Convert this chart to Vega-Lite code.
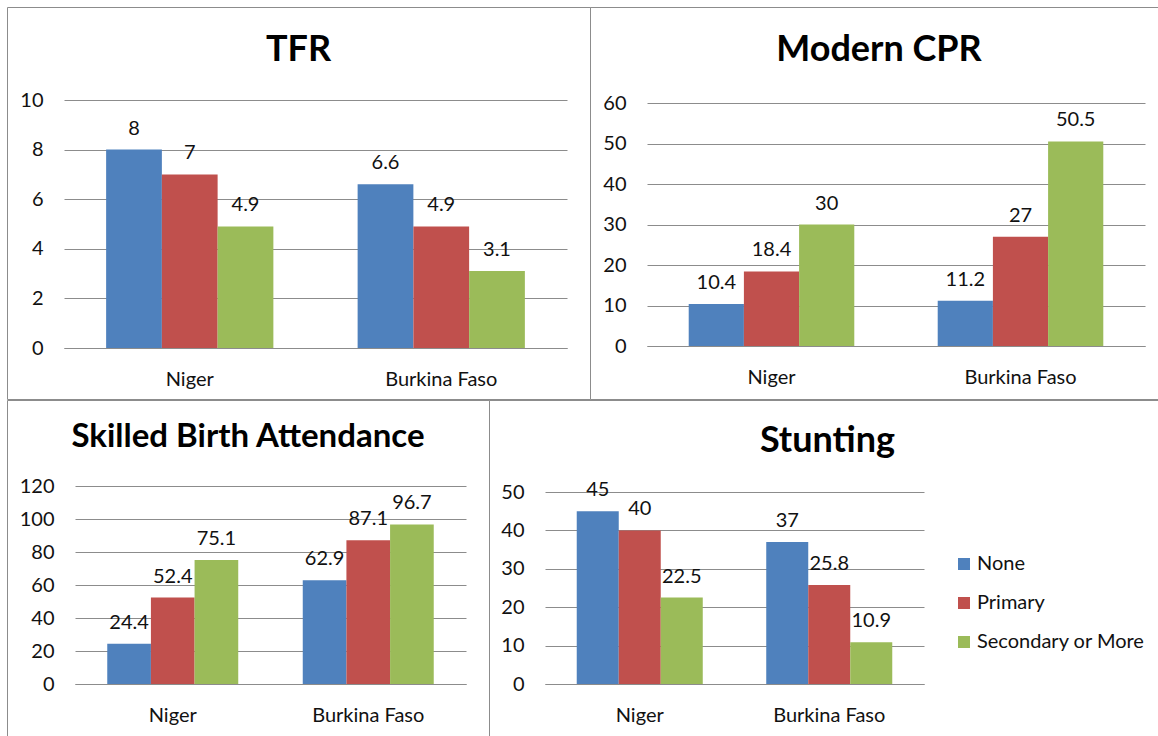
{
  "$schema": "https://vega.github.io/schema/vega-lite/v6.json",
  "background": "white",
  "padding": {"left": 6, "top": 6, "right": 0, "bottom": 0},
  "config": {
    "font": "Lato",
    "view": {"stroke": "#8c8c8c", "strokeWidth": 1},
    "axis": {"labelFont": "Lato", "labelFontSize": 20, "labelColor": "#111", "ticks": false, "title": null},
    "axisX": {"domain": true, "domainColor": "#8c8c8c", "grid": false, "labelAngle": 0, "labelPadding": 21},
    "axisY": {"domain": false, "grid": true, "gridColor": "#8c8c8c", "labelPadding": 21},
    "text": {"font": "Lato", "fontSize": 20, "color": "#111"},
    "title": {"font": "Lato", "fontSize": 36, "fontWeight": "bold", "color": "#000", "anchor": "middle", "frame": "group", "baseline": "alphabetic"}
  },
  "data": {
    "values": [
      {"indicator": "TFR", "country": "Niger", "education": "None", "value": 8},
      {"indicator": "TFR", "country": "Niger", "education": "Primary", "value": 7},
      {"indicator": "TFR", "country": "Niger", "education": "Secondary or More", "value": 4.9},
      {"indicator": "TFR", "country": "Burkina Faso", "education": "None", "value": 6.6},
      {"indicator": "TFR", "country": "Burkina Faso", "education": "Primary", "value": 4.9},
      {"indicator": "TFR", "country": "Burkina Faso", "education": "Secondary or More", "value": 3.1},
      {"indicator": "CPR", "country": "Niger", "education": "None", "value": 10.4},
      {"indicator": "CPR", "country": "Niger", "education": "Primary", "value": 18.4},
      {"indicator": "CPR", "country": "Niger", "education": "Secondary or More", "value": 30},
      {"indicator": "CPR", "country": "Burkina Faso", "education": "None", "value": 11.2},
      {"indicator": "CPR", "country": "Burkina Faso", "education": "Primary", "value": 27},
      {"indicator": "CPR", "country": "Burkina Faso", "education": "Secondary or More", "value": 50.5},
      {"indicator": "SBA", "country": "Niger", "education": "None", "value": 24.4},
      {"indicator": "SBA", "country": "Niger", "education": "Primary", "value": 52.4},
      {"indicator": "SBA", "country": "Niger", "education": "Secondary or More", "value": 75.1},
      {"indicator": "SBA", "country": "Burkina Faso", "education": "None", "value": 62.9},
      {"indicator": "SBA", "country": "Burkina Faso", "education": "Primary", "value": 87.1},
      {"indicator": "SBA", "country": "Burkina Faso", "education": "Secondary or More", "value": 96.7},
      {"indicator": "Stunting", "country": "Niger", "education": "None", "value": 45},
      {"indicator": "Stunting", "country": "Niger", "education": "Primary", "value": 40},
      {"indicator": "Stunting", "country": "Niger", "education": "Secondary or More", "value": 22.5},
      {"indicator": "Stunting", "country": "Burkina Faso", "education": "None", "value": 37},
      {"indicator": "Stunting", "country": "Burkina Faso", "education": "Primary", "value": 25.8},
      {"indicator": "Stunting", "country": "Burkina Faso", "education": "Secondary or More", "value": 10.9}
    ]
  },
  "spacing": -2,
  "resolve": {"scale": {"color": "independent", "xOffset": "independent"}, "legend": {"color": "independent"}},
  "vconcat": [
    {
      "spacing": 0,
      "bounds": "flush",
      "resolve": {"scale": {"color": "independent", "xOffset": "independent"}, "legend": {"color": "independent"}},
      "hconcat": [
        {
          "width": 583,
          "height": 392,
          "title": {"text": "TFR", "offset": -62},
          "transform": [{"filter": "datum.indicator === 'TFR'"}],
          "encoding": {
            "x": {"field": "country", "type": "nominal", "sort": ["Niger", "Burkina Faso"],
                  "scale": {"range": [57, 560], "paddingInner": 0.335, "paddingOuter": 0.1675},
                  "axis": {"offset": -51}},
            "xOffset": {"field": "education", "type": "nominal", "sort": ["None", "Primary", "Secondary or More"],
                        "scale": {"paddingInner": 0, "paddingOuter": 0}},
            "y": {"field": "value", "type": "quantitative",
                  "scale": {"domain": [0, 10], "range": [341, 93], "nice": false},
                  "axis": {"values": [0, 2, 4, 6, 8, 10], "offset": -57}},
            "color": {"field": "education", "type": "nominal", "sort": ["None", "Primary", "Secondary or More"],
                      "scale": {"domain": ["None", "Primary", "Secondary or More"], "range": ["#4F81BD", "#C0504D", "#9BBB59"]},
                      "legend": null}
          },
          "layer": [
            {"mark": {"type": "bar"}},
            {"mark": {"type": "text", "baseline": "alphabetic", "dy": -15}, "encoding": {"text": {"field": "value", "type": "quantitative"}, "color": {"value": "#111"}}}
          ]
        },
        {
          "width": 568,
          "height": 392,
          "title": {"text": "Modern CPR", "offset": -62, "dx": 5},
          "transform": [{"filter": "datum.indicator === 'CPR'"}],
          "encoding": {
            "x": {"field": "country", "type": "nominal", "sort": ["Niger", "Burkina Faso"],
                  "scale": {"range": [57, 555], "paddingInner": 0.335, "paddingOuter": 0.1675},
                  "axis": {"offset": -53}},
            "xOffset": {"field": "education", "type": "nominal", "sort": ["None", "Primary", "Secondary or More"],
                        "scale": {"paddingInner": 0, "paddingOuter": 0}},
            "y": {"field": "value", "type": "quantitative",
                  "scale": {"domain": [0, 60], "range": [339, 96], "nice": false},
                  "axis": {"values": [0, 10, 20, 30, 40, 50, 60], "offset": -57}},
            "color": {"field": "education", "type": "nominal", "sort": ["None", "Primary", "Secondary or More"],
                      "scale": {"domain": ["None", "Primary", "Secondary or More"], "range": ["#4F81BD", "#C0504D", "#9BBB59"]},
                      "legend": null}
          },
          "layer": [
            {"mark": {"type": "bar"}},
            {"mark": {"type": "text", "baseline": "alphabetic", "dy": -15}, "encoding": {"text": {"field": "value", "type": "quantitative"}, "color": {"value": "#111"}}}
          ]
        }
      ]
    },
    {
      "spacing": 0,
      "bounds": "flush",
      "resolve": {"scale": {"color": "independent", "xOffset": "independent"}, "legend": {"color": "independent"}},
      "hconcat": [
        {
          "width": 482,
          "height": 338,
          "title": {"text": "Skilled Birth Attendance", "offset": -54, "fontSize": 33},
          "transform": [{"filter": "datum.indicator === 'SBA'"}],
          "encoding": {
            "x": {"field": "country", "type": "nominal", "sort": ["Niger", "Burkina Faso"],
                  "scale": {"range": [68, 459], "paddingInner": 0.33, "paddingOuter": 0.165},
                  "axis": {"offset": -54}},
            "xOffset": {"field": "education", "type": "nominal", "sort": ["None", "Primary", "Secondary or More"],
                        "scale": {"paddingInner": 0, "paddingOuter": 0}},
            "y": {"field": "value", "type": "quantitative",
                  "scale": {"domain": [0, 120], "range": [284, 86], "nice": false},
                  "axis": {"values": [0, 20, 40, 60, 80, 100, 120], "offset": -68}},
            "color": {"field": "education", "type": "nominal", "sort": ["None", "Primary", "Secondary or More"],
                      "scale": {"domain": ["None", "Primary", "Secondary or More"], "range": ["#4F81BD", "#C0504D", "#9BBB59"]},
                      "legend": null}
          },
          "layer": [
            {"mark": {"type": "bar"}},
            {"mark": {"type": "text", "baseline": "alphabetic", "dy": -15}, "encoding": {"text": {"field": "value", "type": "quantitative"}, "color": {"value": "#111"}}}
          ]
        },
        {
          "width": 669,
          "height": 338,
          "title": {"text": "Stunting", "offset": -60, "dx": 4},
          "transform": [{"filter": "datum.indicator === 'Stunting'"}],
          "encoding": {
            "x": {"field": "country", "type": "nominal", "sort": ["Niger", "Burkina Faso"],
                  "scale": {"range": [56, 435], "paddingInner": 0.335, "paddingOuter": 0.1675},
                  "axis": {"offset": -54}},
            "xOffset": {"field": "education", "type": "nominal", "sort": ["None", "Primary", "Secondary or More"],
                        "scale": {"paddingInner": 0, "paddingOuter": 0}},
            "y": {"field": "value", "type": "quantitative",
                  "scale": {"domain": [0, 50], "range": [284, 92], "nice": false},
                  "axis": {"values": [0, 10, 20, 30, 40, 50], "offset": -56}},
            "color": {"field": "education", "type": "nominal", "sort": ["None", "Primary", "Secondary or More"],
                      "scale": {"domain": ["None", "Primary", "Secondary or More"], "range": ["#4F81BD", "#C0504D", "#9BBB59"]},
                      "legend": {"orient": "none", "legendX": 465, "legendY": 154, "title": null, "symbolType": "square", "symbolSize": 144, "symbolStrokeWidth": 0, "labelFont": "Lato", "labelFontSize": 20, "labelColor": "#111", "labelLimit": 400, "rowPadding": 19, "labelOffset": 3, "padding": 0}}
          },
          "layer": [
            {"mark": {"type": "bar"}},
            {"mark": {"type": "text", "baseline": "alphabetic", "dy": -15}, "encoding": {"text": {"field": "value", "type": "quantitative"}, "color": {"value": "#111"}}}
          ]
        }
      ]
    }
  ]
}
